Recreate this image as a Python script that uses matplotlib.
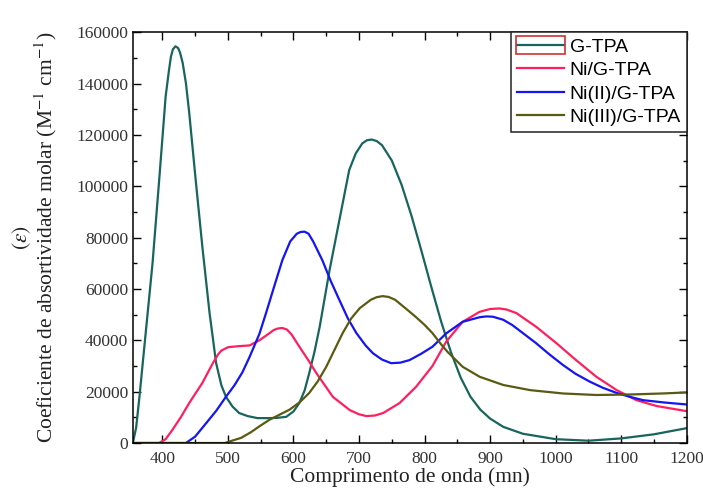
import matplotlib
matplotlib.use('Agg')
import matplotlib.pyplot as plt
from matplotlib.ticker import MultipleLocator
from matplotlib.patches import Rectangle

plt.rcParams['font.family'] = ['Liberation Serif', 'DejaVu Serif']
plt.rcParams['mathtext.fontset'] = 'stix'

# wavelength (nm) / molar absorptivity
g_tpa_x = [355, 360, 365, 375, 385, 395, 405, 410, 413, 416, 420, 424, 427, 431, 436,
           441, 451, 461, 472, 482, 490, 497, 507, 517, 530, 545, 563, 575, 589, 600,
           609, 617, 624, 632, 640, 655, 670, 685, 695, 705, 712, 719, 727, 735, 750,
           765, 780, 795, 810, 825, 840, 855, 870, 885, 900, 920, 950, 1000, 1050, 1100,
           1150, 1200]
g_tpa_y = [0, 6000, 17900, 44000, 70000, 102000, 135000, 145000, 150400, 153300, 154500,
           153800, 152000, 148000, 140000, 128500, 102000, 76400, 50600, 31100, 22500, 18000,
           14200, 11700, 10500, 9700, 9700, 9800, 10200, 12300, 15600, 20500, 27200, 35500,
           45300, 67300, 86800, 106300, 112800, 116700, 117900, 118200, 117600, 116000,
           110000, 100500, 88500, 75000, 61000, 47500, 35500, 25500, 18000, 13000, 9500,
           6300, 3600, 1500, 900, 1800, 3400, 5800]

ni_x = [355, 395, 405, 415, 428, 441, 461, 477, 485, 490, 500, 515, 533, 548, 558,
        570, 576, 583, 590, 597, 609, 622, 635, 660, 686, 700, 711, 724, 737, 762,
        787, 812, 833, 858, 884, 900, 914, 925, 940, 970, 1001, 1031, 1062, 1093, 1123,
        1154, 1200]
ni_y = [0, 0, 1500, 5000, 10000, 15600, 23400, 31100, 34500, 36000, 37300, 37700, 38000,
        40000, 41800, 44000, 44600, 44800, 44200, 42300, 37500, 32500, 27200, 18000, 12800,
        11200, 10500, 10700, 11700, 15600, 21900, 30000, 39500, 47200, 51100, 52200, 52400,
        52000, 50600, 45300, 38900, 32300, 25800, 20600, 16700, 14400, 12400]

ni2_x = [355, 436, 450, 467, 482, 497, 510, 522, 533, 548, 558, 570, 583, 595, 605,
         611, 617, 623, 630, 644, 657, 670, 683, 696, 710, 721, 735, 749, 763, 777,
         795, 812, 833, 858, 884, 894, 904, 920, 934, 950, 970, 990, 1011, 1030, 1052,
         1072, 1093, 1113, 1133, 1165, 1200]
ni2_y = [0, 0, 2500, 7800, 12500, 18000, 22500, 27500, 33500, 42500, 50500, 60500, 71200,
         78500, 81500, 82200, 82300, 81500, 78500, 71200, 63000, 55700, 48500, 42800, 38000,
         35000, 32500, 31100, 31300, 32300, 34800, 37500, 42700, 47200, 49000, 49300, 49200,
         48000, 45900, 42800, 38900, 34600, 30400, 27000, 23900, 21500, 19500, 18000, 16700,
         15800, 15000]

ni3_x = [355, 495, 520, 535, 548, 563, 580, 594, 610, 624, 637, 650, 663, 675, 688,
         701, 718, 727, 736, 745, 755, 765, 775, 787, 800, 812, 825, 835, 858, 884,
         920, 961, 1011, 1062, 1113, 1163, 1200]
ni3_y = [0, 0, 2000, 4200, 6500, 9000, 11200, 13000, 16000, 19500, 24000, 29700, 36500,
         42800, 48500, 52500, 55800, 56800, 57200, 56900, 55800, 53700, 51600, 49000, 46000,
         42800, 38500, 35500, 29700, 25800, 22600, 20600, 19300, 18700, 18900, 19300, 19700]

labels = ['G-TPA', 'Ni/G-TPA', 'Ni(II)/G-TPA', 'Ni(III)/G-TPA']
colors = ['#17655d', '#ff1f5e', '#1414f5', '#5a5a12']

fig = plt.figure(figsize=(7.03, 4.95), dpi=100)
ax = fig.add_axes([0.189, 0.105, 0.788, 0.830])

series = [(g_tpa_x, g_tpa_y), (ni_x, ni_y), (ni2_x, ni2_y), (ni3_x, ni3_y)]
for (xs, ys), lab, c in zip(series, labels, colors):
    ax.plot(xs, ys, color=c, lw=1.6, label=lab, solid_joinstyle='round')

ax.set_xlim(355, 1200)
ax.set_ylim(0, 160000)
ax.xaxis.set_major_locator(MultipleLocator(100))
ax.xaxis.set_minor_locator(MultipleLocator(50))
ax.yaxis.set_major_locator(MultipleLocator(20000))
ax.yaxis.set_minor_locator(MultipleLocator(10000))
ax.tick_params(which='both', direction='in', top=True, right=True, labelsize=12.5,
               labelcolor='#333333')
ax.tick_params(which='major', length=6, width=1)
ax.tick_params(which='minor', length=3, width=1)
ax.tick_params(axis='x', pad=6)
for s in ax.spines.values():
    s.set_linewidth(1.1)

ax.set_xlabel('Comprimento de onda (mn)', fontsize=15.5, labelpad=0, color='#222222')
ax.set_ylabel('$(\\varepsilon)$\nCoeficiente de absortividade molar (M$^{-1}$ cm$^{-1}$)',
              fontsize=15.5, linespacing=0.95, color='#222222')
ax.yaxis.set_label_coords(-0.134, 0.5)

leg = ax.legend(loc='upper right', borderaxespad=0, fancybox=False, framealpha=1,
                edgecolor='#222222', handlelength=2.4, handletextpad=0.3,
                borderpad=0.3, labelspacing=0.3,
                prop={'family': 'Liberation Sans', 'size': 14})
leg.get_frame().set_linewidth(1.1)

# red selection box around the first legend handle
fig.canvas.draw()
r = fig.canvas.get_renderer()
bb = leg.get_lines()[0].get_window_extent(r)
x0, y0 = fig.transFigure.inverted().transform((bb.x0 - 1, bb.y0 - 9))
x1, y1 = fig.transFigure.inverted().transform((bb.x1 + 1, bb.y1 + 9))
fig.patches.append(Rectangle((x0, y0), x1 - x0, y1 - y0, transform=fig.transFigure,
                             fill=False, edgecolor='#d03030', lw=1.2))

fig.savefig('out.png', dpi=100)
